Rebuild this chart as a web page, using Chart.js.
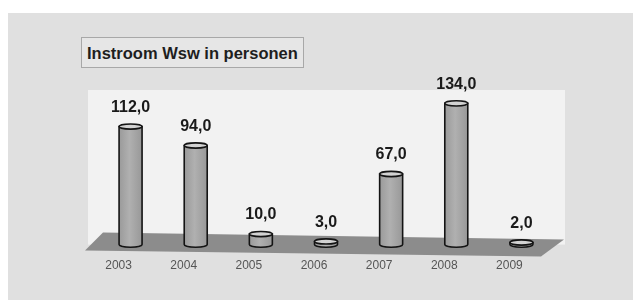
<!DOCTYPE html>
<html>
<head>
<meta charset="utf-8">
<script src="https://cdn.jsdelivr.net/npm/chart.js@4/dist/chart.umd.min.js"></script>
<style>
  html, body { margin: 0; padding: 0; background: #ffffff; }
  #wrap { position: relative; width: 633px; height: 300px; overflow: hidden; }
  #panel { position: absolute; left: 8px; top: 13px; right: 0; bottom: 0; background: #e0e0e0; }
  #title {
    position: absolute; left: 81px; top: 37px; width: 216px; height: 29px;
    padding-left: 5px; border: 1px solid #a8a8a8; background: #e6e6e6;
    font: bold 16.5px "Liberation Sans", Arial, sans-serif; color: #1e1e1e;
    line-height: 30px; white-space: nowrap;
  }
  canvas { position: absolute; left: 0; top: 0; }
</style>
</head>
<body>
<div id="wrap">
  <div id="panel"></div>
  <canvas id="instroomChart" width="633" height="300"></canvas>
  <div id="title">Instroom Wsw in personen</div>
</div>
<script>
// data
const years = ['2003', '2004', '2005', '2006', '2007', '2008', '2009'];
const instroom = [112, 94, 10, 3, 67, 134, 2];

// dutch style number, 112 -> "112,0"
function fmt(v) { return v.toFixed(1).replace('.', ','); }

// draws white back wall + grey floor, then cylinders instead of flat bars
const cylinderPlugin = {
    id: 'cylinders',
    beforeDatasetsDraw(chart) {
        const ctx = chart.ctx;
        const a = chart.chartArea;
        ctx.save();
        ctx.fillStyle = '#f2f2f2'; // back wall
        ctx.fillRect(a.left - 10, 90, a.right + 11 - (a.left - 10), a.bottom - 90);
        ctx.fillStyle = '#8c8c8c'; // floor
        ctx.beginPath();
        ctx.moveTo(a.left + 5, a.bottom - 12);
        ctx.lineTo(a.right + 10, a.bottom - 5);
        ctx.lineTo(a.right - 13, a.bottom + 12);
        ctx.lineTo(a.left - 13, a.bottom + 6);
        ctx.closePath();
        ctx.fill();
        ctx.restore();
    },
    afterDatasetsDraw(chart) {
        const ctx = chart.ctx;
        const meta = chart.getDatasetMeta(0);
        const values = chart.data.datasets[0].data;
        meta.data.forEach((bar, i) => {
            const p = bar.getProps(['x', 'y', 'base', 'width'], true);
            const rx = p.width / 2, ry = 2.6;
            const left = p.x - rx, right = p.x + rx;
            ctx.save();
            ctx.lineWidth = 1.6;
            ctx.strokeStyle = '#141414';
            // body
            const g = ctx.createLinearGradient(left, 0, right, 0);
            g.addColorStop(0, '#9a9a9a');
            g.addColorStop(0.45, '#b0b0b0');
            g.addColorStop(1, '#989898');
            ctx.fillStyle = g;
            ctx.beginPath();
            ctx.moveTo(left, p.y);
            ctx.lineTo(left, p.base);
            ctx.ellipse(p.x, p.base, rx, ry, 0, Math.PI, 0, true);
            ctx.lineTo(right, p.y);
            ctx.closePath();
            ctx.fill();
            ctx.stroke();
            // top
            ctx.fillStyle = '#d2d2d2';
            ctx.beginPath();
            ctx.ellipse(p.x, p.y, rx, ry, 0, 0, Math.PI * 2);
            ctx.fill();
            ctx.stroke();
            // value label
            ctx.fillStyle = '#1a1a1a';
            ctx.font = 'bold 16px "Liberation Sans", Arial, sans-serif';
            ctx.textAlign = 'center';
            ctx.textBaseline = 'middle';
            ctx.fillText(fmt(values[i]), p.x, p.y - 19);
            ctx.restore();
        });
    }
};

const ctx = document.getElementById('instroomChart').getContext('2d');
new Chart(ctx, {
    type: 'bar',
    data: {
        labels: years,
        datasets: [{
            label: 'Instroom Wsw',
            data: instroom,
            backgroundColor: 'rgba(0,0,0,0)', // the plugin paints the cylinders
            borderWidth: 0,
            barPercentage: 0.353,
            categoryPercentage: 1
        }]
    },
    options: {
        responsive: false,
        animation: false,
        layout: { padding: { left: 98, right: 79, top: 77, bottom: 13 } },
        plugins: {
            legend: { display: false },
            tooltip: { enabled: false }
        },
        scales: {
            x: {
                grid: { display: false, drawTicks: false },
                border: { display: false },
                ticks: {
                    color: '#555555',
                    font: { family: '"Liberation Sans", Arial, sans-serif', size: 12 },
                    padding: 14,
                    labelOffset: -12
                }
            },
            y: {
                display: false,
                min: 0,
                max: 159
            }
        }
    },
    plugins: [cylinderPlugin]
});
</script>
</body>
</html>
